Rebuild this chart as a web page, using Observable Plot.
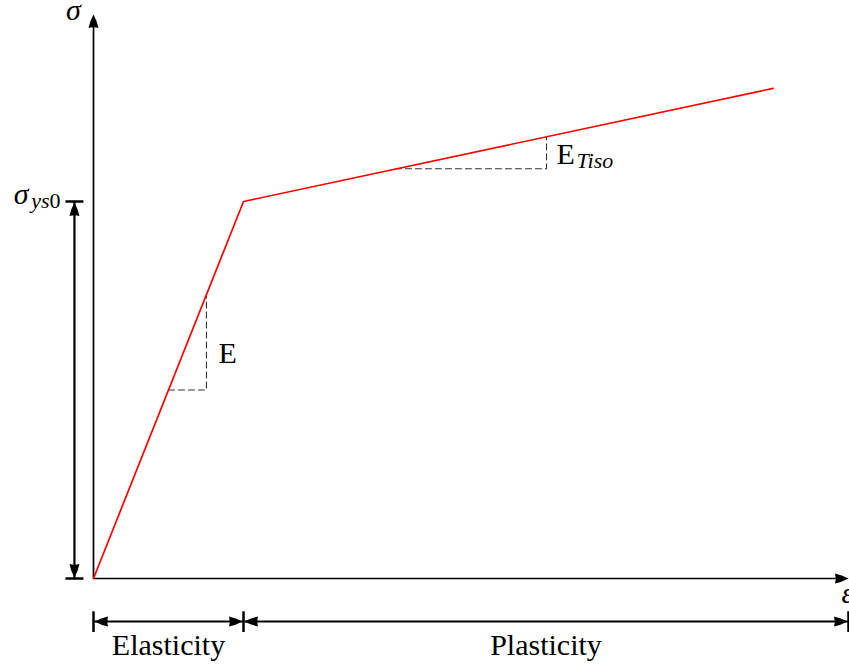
<!DOCTYPE html>
<html>
<head>
<meta charset="utf-8">
<script src="https://cdn.jsdelivr.net/npm/d3@7"></script>
<script src="https://cdn.jsdelivr.net/npm/@observablehq/plot@0.6"></script>
<style>
  html, body { margin: 0; padding: 0; background: #fff; }
</style>
</head>
<body>
<div id="chart"></div>
<script>
// Bilinear (isotropic hardening) stress–strain curve, arbitrary units (ε_y = 1, σ_ys0 = 1)
const strain = [0, 1, 4.53];
const stress = [0, 1, 1.30];
// extent of the drawn axes
const axisEnd = [5.033, 1.496];
// slope triangles
const eTriStrain = [0.5, 0.753, 0.753];
const eTriStress = [0.5, 0.5, 0.753];
const tTriStrain = [2.013, 3.02, 3.02];
const tTriStress = [1.087, 1.087, 1.173];
// region bounds along the strain axis and their labels
const regionBounds = [0, 1, 5.033];
const regionLabels = ["Elasticity", "Plasticity"];

const xMax = axisEnd[0], yMax = axisEnd[1];
const dimY = -0.114;          // row of the region dimension arrows
const dimTick = [-0.087, -0.142];
const vDimX = -0.127;          // column of the σ_ys0 dimension arrow
const vTick = [-0.187, -0.067];

const FONT = "Liberation Serif";
const FS = 30;
const SUB = 22;

// filled "latex"-style arrow head with slightly convex sides, tip at the origin
function head(dir) {
  const L = 13.5, w = 5, b = 1.2;
  const rot = {right: 0, down: Math.PI / 2, left: Math.PI, up: -Math.PI / 2}[dir];
  const c = Math.cos(rot), s = Math.sin(rot);
  const t = ([x, y]) => [x * c - y * s, x * s + y * c];
  const tip = t([0, 0]), a = t([-L, -w]), bb = t([-L, w]);
  const ca = t([-L / 2, -w / 2 - b]), cb = t([-L / 2, w / 2 + b]);
  const back = t([-L + 1.5, 0]);
  return {
    draw(ctx) {
      ctx.moveTo(tip[0], tip[1]);
      ctx.quadraticCurveTo(ca[0], ca[1], a[0], a[1]);
      ctx.quadraticCurveTo(back[0], back[1], bb[0], bb[1]);
      ctx.quadraticCurveTo(cb[0], cb[1], tip[0], tip[1]);
      ctx.closePath();
    }
  };
}

const curve = strain.map((x, i) => ({x, y: stress[i]}));
const eTri = eTriStrain.map((x, i) => ({x, y: eTriStress[i]}));
const tTri = tTriStrain.map((x, i) => ({x, y: tTriStress[i]}));

const axes = [
  {x1: 0, y1: 0, x2: 0, y2: yMax - 0.01},
  {x1: 0, y1: 0, x2: xMax - 0.02, y2: 0}
];
const dimLines = [
  {x1: regionBounds[0], y1: dimY, x2: regionBounds[1], y2: dimY},
  {x1: regionBounds[1], y1: dimY, x2: regionBounds[2], y2: dimY},
  {x1: vDimX, y1: 0, x2: vDimX, y2: stress[1]}
];
const ticks = [
  ...regionBounds.map(b => ({x1: b, y1: dimTick[0], x2: b, y2: dimTick[1]})),
  {x1: vTick[0], y1: 0, x2: vTick[1], y2: 0},
  {x1: vTick[0], y1: stress[1], x2: vTick[1], y2: stress[1]}
];
const regions = regionLabels.map((label, i) => ({
  x: (regionBounds[i] + regionBounds[i + 1]) / 2, y: dimY, label
}));

const plot = Plot.plot({
  width: 849,
  height: 664,
  marginLeft: 93,
  marginRight: 1,
  marginTop: 14,
  marginBottom: 86,
  x: {domain: [0, xMax], axis: null},
  y: {domain: [0, yMax], axis: null},
  style: {fontFamily: FONT, background: "#fff", color: "#000", overflow: "visible"},
  marks: [
    // axes
    Plot.link(axes, {x1: "x1", y1: "y1", x2: "x2", y2: "y2", stroke: "#000", strokeWidth: 1.7}),
    Plot.dot([{x: 0, y: yMax}], {x: "x", y: "y", symbol: head("up"), fill: "#000", stroke: "none"}),
    Plot.dot([{x: xMax, y: 0}], {x: "x", y: "y", symbol: head("right"), fill: "#000", stroke: "none"}),
    // slope triangles
    Plot.line(eTri, {x: "x", y: "y", stroke: "#333", strokeWidth: 1.1, strokeDasharray: "6,4"}),
    Plot.line(tTri, {x: "x", y: "y", stroke: "#333", strokeWidth: 1.1, strokeDasharray: "6,4"}),
    // curve
    Plot.line(curve, {x: "x", y: "y", stroke: "#ff0000", strokeWidth: 1.7}),
    // dimension arrows
    Plot.link(dimLines, {x1: "x1", y1: "y1", x2: "x2", y2: "y2", stroke: "#000", strokeWidth: 2.2}),
    Plot.link(ticks, {x1: "x1", y1: "y1", x2: "x2", y2: "y2", stroke: "#000", strokeWidth: 2.5}),
    Plot.dot([regionBounds[0], regionBounds[1]], {x: d => d, y: () => dimY, dx: 1, symbol: head("left"), fill: "#000", stroke: "none"}),
    Plot.dot([regionBounds[1], regionBounds[2]], {x: d => d, y: () => dimY, dx: -1, symbol: head("right"), fill: "#000", stroke: "none"}),
    Plot.dot([stress[1]], {x: () => vDimX, y: d => d, dy: 1, symbol: head("up"), fill: "#000", stroke: "none"}),
    Plot.dot([0], {x: () => vDimX, y: d => d, dy: -1, symbol: head("down"), fill: "#000", stroke: "none"}),
    // labels
    Plot.text(regions, {x: "x", y: "y", text: "label", fontSize: FS, lineAnchor: "bottom", dy: 34, fill: "#000"}),
    Plot.text(["σ"], {x: () => 0, y: () => yMax, text: d => d, fontSize: FS, fontStyle: "italic", lineAnchor: "bottom", dx: -20, dy: 5, fill: "#000"}),
    Plot.text(["ε"], {x: () => xMax, y: () => 0, text: d => d, fontSize: FS, fontStyle: "italic", textAnchor: "start", lineAnchor: "bottom", dx: -7, dy: 24, fill: "#000"}),
    Plot.text(["σ"], {x: () => 0, y: () => stress[1], text: d => d, fontSize: FS, fontStyle: "italic", textAnchor: "end", lineAnchor: "bottom", dx: -65, dy: 3, fill: "#000"}),
    Plot.text(["ys"], {x: () => 0, y: () => stress[1], text: d => d, fontSize: SUB, fontStyle: "italic", textAnchor: "end", lineAnchor: "bottom", dx: -44, dy: 7, fill: "#000"}),
    Plot.text(["0"], {x: () => 0, y: () => stress[1], text: d => d, fontSize: SUB, textAnchor: "end", lineAnchor: "bottom", dx: -33, dy: 7, fill: "#000"}),
    Plot.text(["E"], {x: () => eTriStrain[1], y: () => eTriStress[1], text: d => d, fontSize: FS, textAnchor: "start", lineAnchor: "bottom", dx: 12, dy: -27, fill: "#000"}),
    Plot.text(["E"], {x: () => tTriStrain[1], y: () => tTriStress[1], text: d => d, fontSize: FS, textAnchor: "start", lineAnchor: "bottom", dx: 10, dy: -5, fill: "#000"}),
    Plot.text(["Tiso"], {x: () => tTriStrain[1], y: () => tTriStress[1], text: d => d, fontSize: SUB, fontStyle: "italic", textAnchor: "start", lineAnchor: "bottom", dx: 30, dy: -1, fill: "#000"})
  ]
});
document.getElementById("chart").append(plot);
</script>
</body>
</html>
